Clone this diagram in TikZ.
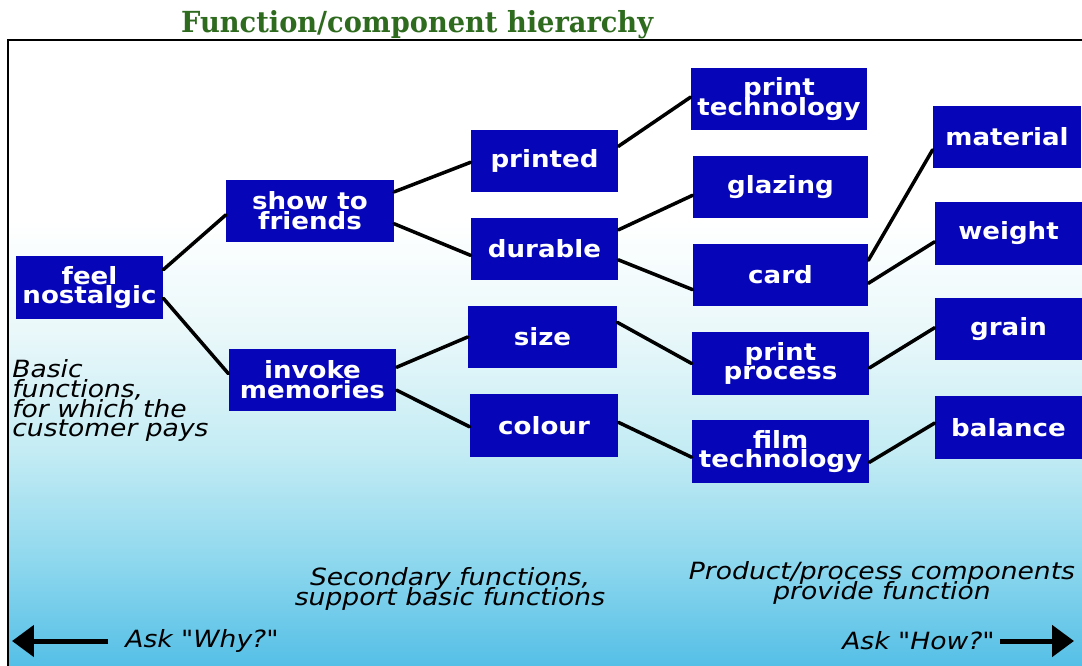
\documentclass[tikz,border=0pt]{standalone}
\usepackage{fontspec}
\newfontfamily\boxfont{DejaVu Sans}[FakeStretch=1.1]
\newfontfamily\notefont{DejaVu Sans}[FakeStretch=1.12]
\newfontfamily\titlefont{DejaVu Serif}[FakeStretch=0.94]
\usetikzlibrary{arrows.meta,calc}

\definecolor{boxblue}{RGB}{6,6,184}
\definecolor{titlegreen}{RGB}{47,107,31}
\definecolor{sky1}{RGB}{234,248,250}
\definecolor{sky2}{RGB}{196,236,244}
\definecolor{sky3}{RGB}{143,216,238}
\definecolor{sky4}{RGB}{85,191,230}

\tikzset{
  fbox/.style={fill=boxblue, text=white, align=center, inner sep=0pt,
    minimum height=1.26cm, minimum width=#1,
    font=\boxfont\bfseries\fontsize{13.5}{11.3}\selectfont},
  link/.style={line width=2pt, line cap=round},
  note/.style={inner sep=0pt,
    font=\notefont\itshape\fontsize{13.5}{11.3}\selectfont},
  bigarrow/.style={line width=0.1cm, -{Triangle[length=0.44cm, width=0.62cm]}},
}

\begin{document}
\begin{tikzpicture}[x=0.02cm, y=-0.02cm]
    \lineskiplimit=-20pt
    \useasboundingbox (0,0) rectangle (1082,666);

    % sky background of the panel
    \fill[white] (0,0) rectangle (1082,666);
    \shade[top color=white, bottom color=sky1] (8,220) rectangle (1082,330);
    \shade[top color=sky1, bottom color=sky2] (8,330) rectangle (1082,450);
    \shade[top color=sky2, bottom color=sky3] (8,450) rectangle (1082,560);
    \shade[top color=sky3, bottom color=sky4] (8,560) rectangle (1082,666);
    \draw[line width=1.2pt] (8,666) -- (8,40) -- (1082,40);

    \node[anchor=base west, text=titlegreen,
        font=\titlefont\bfseries\fontsize{16.5}{18}\selectfont] (title) at (175,32)
        {Function/component hierarchy};

    % basic functions
    \node[fbox=2.94cm] (fn) at (89.5,287.5) {feel\\nostalgic};
    % secondary functions
    \node[fbox=3.35cm] (sf) at (310,211) {show to\\friends};
    \node[fbox=3.35cm] (im) at (312.5,380) {invoke\\memories};
    \node[fbox=2.94cm] (pr) at (544.5,161) {printed};
    \node[fbox=2.94cm] (du) at (544.5,249) {durable};
    \node[fbox=2.98cm] (sz) at (542.5,337) {size};
    \node[fbox=2.96cm] (co) at (544,425.5) {colour};
    % components
    \node[fbox=3.52cm] (pt) at (779,99) {print\\technology};
    \node[fbox=3.5cm] (gl) at (780.5,187) {glazing};
    \node[fbox=3.5cm] (ca) at (780.5,275) {card};
    \node[fbox=3.54cm] (pp) at (780.5,363.5) {print\\process};
    \node[fbox=3.54cm] (ft) at (780.5,451.5) {film\\technology};
    \node[fbox=2.96cm] (ma) at (1007,137) {material};
    \node[fbox=2.94cm] (we) at (1008.5,233.5) {weight};
    \node[fbox=2.94cm] (gr) at (1008.5,329) {grain};
    \node[fbox=2.94cm] (ba) at (1008.5,427.5) {balance};

    % links: parent/where on its right side/child/where on its left side
    \foreach \a/\p/\b/\q in {fn/.22/sf/.56, fn/.67/im/.4,
        sf/.2/pr/.52, sf/.7/du/.6, im/.3/sz/.5, im/.66/co/.52,
        pr/.27/pt/.47, du/.2/gl/.63, du/.67/ca/.73,
        sz/.27/pp/.5, co/.45/ft/.59,
        ca/.27/ma/.7, ca/.63/we/.63, pp/.57/gr/.48, ft/.67/ba/.43}
        \draw[link] ($(\a.north east)!\p!(\a.south east)$)
            -- ($(\b.north west)!\q!(\b.south west)$);

    \node[note, align=left, anchor=north west] (basic) at (12,359)
        {Basic\\functions,\\for which the\\customer pays};
    \node[note, align=center, anchor=north] (second) at (450,567)
        {Secondary functions,\\support basic functions};
    \node[note, align=center, anchor=north] (product) at (882,561)
        {Product/process components\\provide function};

    \node[note, anchor=west] (why) at (125,641) {Ask "Why?"};
    \node[note, anchor=east] (how) at (995,641) {Ask "How?"};
    \coordinate (whytip) at (12,641);
    \coordinate (howtip) at (1074,641);
    \draw[bigarrow, shorten <=0.34cm] (why.west) -- (whytip);
    \draw[bigarrow, shorten <=0.1cm] (how.east) -- (howtip);
\end{tikzpicture}
\end{document}
